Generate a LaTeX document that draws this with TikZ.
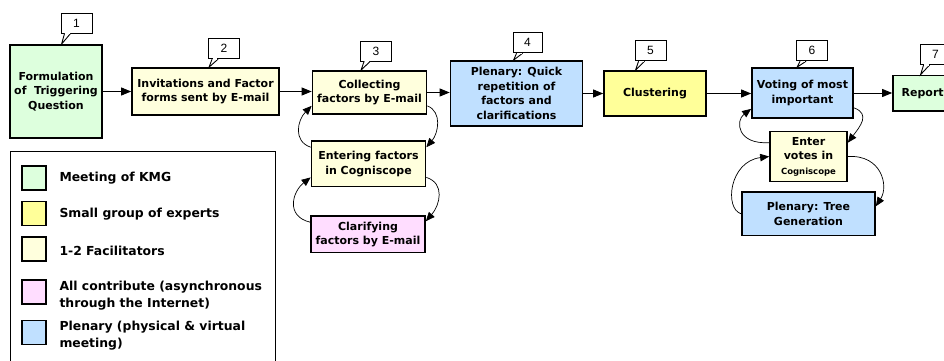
\documentclass[tikz,border=0pt]{standalone}
\usepackage{fontspec}
\setmainfont{DejaVu Sans}
\newfontfamily\numfont{Liberation Sans}
\usetikzlibrary{arrows.meta}
\definecolor{cgreen}{HTML}{DDFFDD}
\definecolor{cyellow}{HTML}{FFFF99}
\definecolor{ccream}{HTML}{FFFFDD}
\definecolor{cpink}{HTML}{FFDDFF}
\definecolor{cblue}{HTML}{C0E0FF}
\tikzset{
 stage/.style={draw, line width=1.7pt, align=center, inner sep=1pt,
   font=\fontsize{11}{14.5}\selectfont\bfseries},
 callbox/.style={draw, line width=0.9pt, fill=white, minimum width=31pt,
   minimum height=20pt, inner sep=0pt, font=\numfont\fontsize{12}{13}\selectfont},
 flow/.style={line width=0.9pt, -{Triangle[length=10pt,width=8pt]}},
 loopback/.style={line width=0.7pt, -{Triangle[length=9pt,width=7.5pt]}},
 swatch/.style={draw, line width=1.6pt, minimum width=24pt, minimum height=24pt, inner sep=0pt},
 legtext/.style={anchor=west, align=left, inner sep=0pt,
   font=\fontsize{12.4}{16.5}\selectfont\bfseries},
}
\newcommand\mycallout[5]{%
  \node[callbox,#5] (#1) at (#2) {#3};
  \filldraw[fill=white, line width=0.9pt, line join=miter]
    ([xshift=4pt]#1.south west) -- ([xshift=1pt]#1.south west |- #4.north) -- ([xshift=10pt]#1.south west);
  \draw[white, line width=1.4pt] ([xshift=4.8pt]#1.south west) -- ([xshift=9.2pt]#1.south west);
}
\begin{document}
\begin{tikzpicture}[x=1pt,y=-1pt]
\useasboundingbox (0,0) rectangle (944,361);
\clip (0,0) rectangle (944,361);

% stages
\node[stage, fill=cgreen, minimum width=92pt, minimum height=93pt] (b1) at (56,91.5)
  {Formulation\\of\ \ Triggering\\Question};
\node[stage, fill=ccream, minimum width=147pt, minimum height=47pt] (b2) at (205.5,91.5)
  {Invitations and Factor\\forms sent by E-mail};
\node[stage, fill=ccream, minimum width=114pt, minimum height=43pt] (b3) at (369.5,92.5)
  {Collecting\\factors by E-mail};
\node[stage, fill=ccream, minimum width=114pt, minimum height=45.5pt] (b3b) at (368.5,163.8)
  {Entering factors\\in Cogniscope};
\node[stage, fill=cpink, minimum width=114pt, minimum height=36.5pt] (b3c) at (368,234.3)
  {Clarifying\\factors by E-mail};
\node[stage, fill=cblue, minimum width=132pt, minimum height=65pt] (b4) at (516.5,93.5)
  {Plenary: Quick\\repetition of\\factors and\\clarifications};
\node[stage, fill=cyellow, minimum width=102pt, minimum height=45pt] (b5) at (655,93.5)
  {Clustering};
\node[stage, fill=cblue, minimum width=101pt, minimum height=50pt] (b6) at (802.5,93)
  {Voting of most\\important};
\node[stage, fill=ccream, minimum width=77pt, minimum height=50pt] (b6b) at (808.5,156.5)
  {Enter\\votes in\\{\fontsize{8.5}{10}\selectfont Cogniscope}};
\node[stage, fill=cblue, minimum width=133pt, minimum height=43.5pt] (b6c) at (808.5,213.8)
  {Plenary: Tree\\Generation};
\node[stage, fill=cgreen, minimum width=59.4pt, minimum height=35.5pt] (b7) at (922.7,93.3)
  {Report};

% callouts
\mycallout{c1}{76.5,23}{1}{b1}{}
\mycallout{c2}{224,48.7}{2}{b2}{}
\mycallout{c3}{376,51}{3}{b3}{}
\mycallout{c4}{527.5,42.8}{4}{b4}{minimum width=29pt}
\mycallout{c5}{650.5,50.8}{5}{b5}{}
\mycallout{c6}{812,50.8}{6}{b6}{}
\mycallout{c7}{935.5,54.6}{7}{b7}{}

% main flow
\draw[flow] (b1.east |- b2.west) -- (b2.west);
\draw[flow] (b2.east) -- (b2.east -| b3.west);
\draw[flow] (b3.east) -- (b3.east -| b4.west);
\draw[flow] (b4.east) -- (b4.east -| b5.west);
\draw[flow] (b5.east) -- (b5.east -| b6.west);
\draw[flow] (b6.east) -- (b6.east -| b7.west);

% loops at step 3
\draw[loopback] ([yshift=9pt]b3.south east) .. controls +(15,6) and +(12,-14) .. ([yshift=-7pt]b3b.north east);
\draw[loopback] ([yshift=-7pt]b3b.north west) .. controls +(-18,-6) and +(-14,14) .. ([yshift=9pt]b3.south west);
\draw[loopback] ([yshift=10pt]b3b.south east) .. controls +(19,6) and +(14,-16) .. ([yshift=-6pt]b3c.north east);
\draw[loopback] ([yshift=-7pt]b3c.north west) .. controls +(-25,-6) and +(-18,14) .. ([yshift=10pt]b3b.south west);

% loops at step 6
\draw[loopback] ([yshift=11pt]b6.south east) .. controls +(17,6) and +(12,-16) .. ([yshift=-12pt]b6b.north east);
\draw[loopback] ([yshift=-12pt]b6b.north west) .. controls +(-32,2) and +(-16,12) .. ([yshift=10pt]b6.south west);
\draw[loopback] (b6b.east) .. controls +(34,-2) and +(13,-20) .. ([yshift=-15pt]b6c.north east);
\draw[loopback] (b6c.west) .. controls +(-17,-5) and +(-40,5) .. (b6b.west);

% legend
\draw[line width=0.8pt] (10,151.7) rectangle (275.3,375);
\node[swatch, fill=cgreen]  (l1) at (33.9,178) {};
\node[swatch, fill=cyellow] (l2) at (33.9,213.4) {};
\node[swatch, fill=ccream]  (l3) at (33.9,248.9) {};
\node[swatch, fill=cpink]   (l4) at (33.9,292) {};
\node[swatch, fill=cblue]   (l5) at (33.9,332.5) {};
\node[legtext] (t1) at (59.3,178.5) {Meeting of KMG};
\node[legtext] (t2) at (59.3,214.5) {Small group of experts};
\node[legtext] (t3) at (59.3,250.5) {1-2 Facilitators};
\node[legtext] (t4) at (59.3,295.5) {All contribute (asynchronous\\through the Internet)};
\node[legtext] (t5) at (59.3,335.5) {Plenary (physical \& virtual\\meeting)};
\end{tikzpicture}
\end{document}
